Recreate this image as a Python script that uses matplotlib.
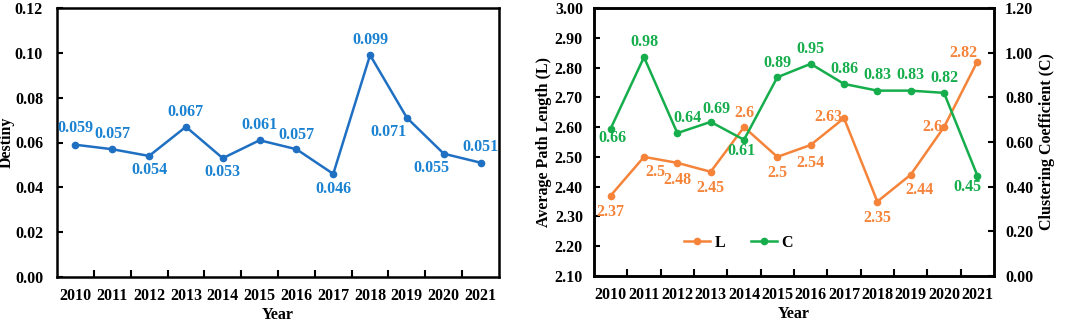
import matplotlib
matplotlib.use("Agg")
import matplotlib.pyplot as plt
import numpy as np

plt.rcParams['font.family'] = ['Liberation Serif', 'DejaVu Serif']
plt.rcParams['font.weight'] = 'bold'
plt.rcParams['axes.labelweight'] = 'bold'

years = ['2010', '2011', '2012', '2013', '2014', '2015', '2016', '2017', '2018', '2019', '2020', '2021']
density = [0.059, 0.057, 0.054, 0.067, 0.053, 0.061, 0.057, 0.046, 0.099, 0.071, 0.055, 0.051]
path_len = [2.37, 2.5, 2.48, 2.45, 2.6, 2.5, 2.54, 2.63, 2.35, 2.44, 2.6, 2.82]
cluster = [0.66, 0.98, 0.64, 0.69, 0.61, 0.89, 0.95, 0.86, 0.83, 0.83, 0.82, 0.45]

# label offsets from the point, in points (text centred there)
d_off = [(0, 12), (0, 11), (0, -10), (0, 11), (0, -10), (0, 11), (0, 10), (0, -11),
         (0, 11), (-13, -10), (-9, -10), (0, 11)]
l_off = [(0, -12), (8, -11), (0, -12), (0, -12), (0, 10), (0, -11.5), (0, -13), (-11, 1),
         (0, -11.5), (6.5, -11), (-8, 0), (-10, 6)]
c_off = [(1, -7), (0, 11), (7, 11), (4, 9.5), (-2, -8), (0, 10), (0, 11), (0, 11),
         (0, 11), (0, 11), (0, 11), (-7, -8)]

blue = '#1f6fc2'
blue_txt = '#1b82d2'
orange = '#f5843a'
green = '#16ad4c'
fs = 11.5

fig = plt.figure(figsize=(10.65, 3.22), dpi=100)
ax1 = fig.add_axes([57/1065, 45/322, 442/1065, 269/322])
ax2 = fig.add_axes([594/1065, 46/322, 400/1065, 268/322])
ax3 = ax2.twinx()

x = np.arange(len(years)) + 0.5

def style(ax):
    for s in ax.spines.values():
        s.set_linewidth(1.8)
    ax.set_xlim(0, len(years))
    ax.set_xticks(np.arange(1, len(years)))
    ax.set_xticklabels([])
    ax.set_xticks(x, minor=True)
    ax.set_xticklabels(years, minor=True, fontsize=fs, fontweight='bold')
    ax.tick_params(axis='x', which='major', direction='in', length=5, width=1.5)
    ax.tick_params(axis='x', which='minor', length=0, pad=8)
    ax.tick_params(axis='y', direction='in', length=4, width=1.5, labelsize=fs)
    ax.set_xlabel('Year', fontsize=fs, fontweight='bold', labelpad=2)

# left chart
ax1.plot(x, density, color=blue, lw=1.8, marker='o', ms=4.5)
style(ax1)
ax1.tick_params(axis='y', pad=10)
ax1.set_ylim(0, 0.12)
ax1.set_yticks(np.arange(0, 0.121, 0.02))
ax1.set_yticklabels(['%.2f' % v for v in np.arange(0, 0.121, 0.02)])
ax1.set_ylabel('Destiny', fontsize=fs, fontweight='bold', labelpad=0)
for xi, v, o in zip(x, density, d_off):
    ax1.annotate('%.3f' % v, (xi, v), xytext=o, textcoords='offset points',
                 ha='center', va='center', color=blue_txt, fontsize=fs, fontweight='bold')

# right chart
lL, = ax2.plot(x, path_len, color=orange, lw=1.8, marker='o', ms=4.5, label='L')
lC, = ax3.plot(x, cluster, color=green, lw=1.8, marker='o', ms=4.5, label='C')
style(ax2)
ax2.tick_params(axis='y', pad=8)
ax2.set_ylim(2.1, 3.0)
ax2.set_yticks(np.arange(2.1, 3.001, 0.1))
ax2.set_yticklabels(['%.2f' % v for v in np.arange(2.1, 3.001, 0.1)])
ax2.set_ylabel('Average Path Length (L)', fontsize=fs, fontweight='bold', labelpad=2)
ax3.set_ylim(0, 1.2)
ax3.set_yticks(np.arange(0, 1.201, 0.2))
ax3.set_yticklabels(['%.2f' % v for v in np.arange(0, 1.201, 0.2)])
ax3.tick_params(axis='y', direction='in', length=4, width=1.5, labelsize=fs, pad=8)
ax3.set_ylabel('Clustering Coefficient (C)', fontsize=fs, fontweight='bold', labelpad=4)
for s in ax3.spines.values():
    s.set_linewidth(1.8)

for xi, v, o in zip(x, path_len, l_off):
    ax2.annotate('%g' % v, (xi, v), xytext=o, textcoords='offset points',
                 ha='center', va='center', color=orange, fontsize=fs, fontweight='bold')
for xi, v, o in zip(x, cluster, c_off):
    ax3.annotate('%.2f' % v, (xi, v), xytext=o, textcoords='offset points',
                 ha='center', va='center', color=green, fontsize=fs, fontweight='bold')

ax2.legend(handles=[lL, lC], loc='lower left', bbox_to_anchor=(0.19, 0.04), ncol=2,
           frameon=False, fontsize=fs, handlelength=1.6, columnspacing=1.6, handletextpad=0.3)

fig.savefig('out.png', dpi=100)
